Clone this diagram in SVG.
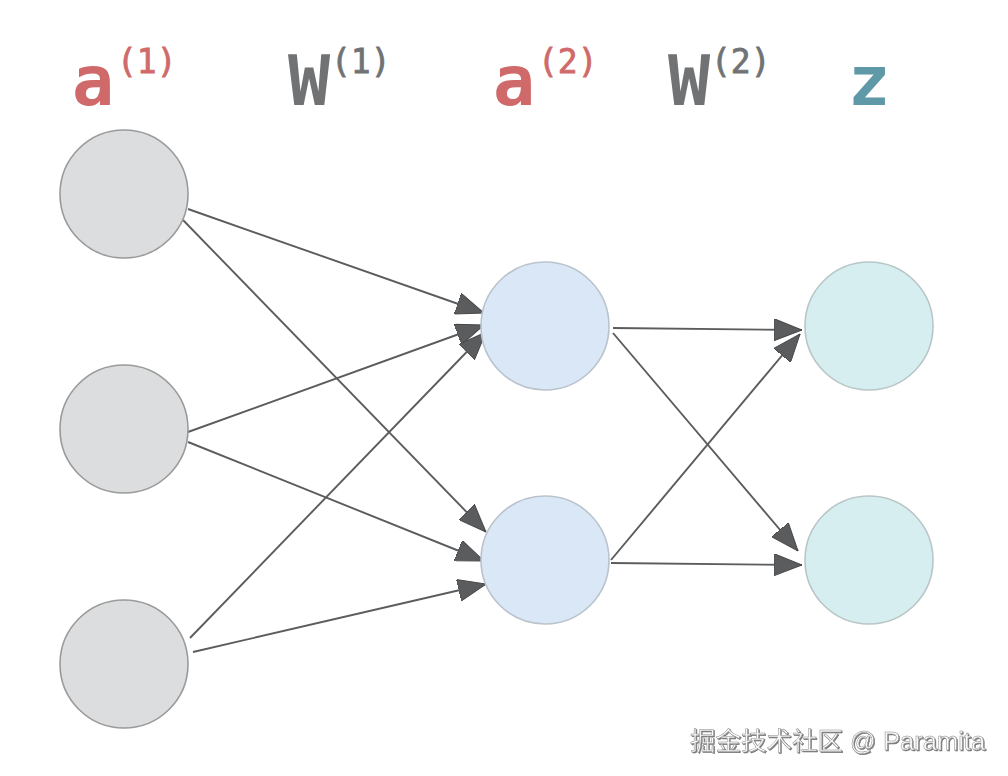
<svg xmlns="http://www.w3.org/2000/svg" width="1008" height="776" viewBox="0 0 1008 776">
<defs>
<style>
.lbl{font-family:"DejaVu Sans Mono","Liberation Mono",monospace;font-weight:bold;font-size:70px}
.sup{font-family:"DejaVu Sans Mono","Liberation Mono",monospace;font-size:33px;stroke-width:0.8}
.red{fill:#d06a6a}.gray{fill:#707274}.teal{fill:#5f98a6}
.sup.red{stroke:#d06a6a}.sup.gray{stroke:#707274}
.in{fill:#dcdddf;stroke:#9a9a9a;stroke-width:1.6}
.hid{fill:#dae7f7;stroke:#b9c3cc;stroke-width:1.6}
.out{fill:#d6eef0;stroke:#b8c6c8;stroke-width:1.6}
.c line{stroke:#5a5c5e;stroke-width:1.9;marker-end:url(#ah)}
.wm{font-family:"Liberation Sans","Noto Sans CJK SC",sans-serif;font-size:25.5px;fill:#fafafa;stroke:#8a8a8a;stroke-width:0.5;filter:url(#sh)}
</style>
<marker id="ah" viewBox="0 0 28 22" refX="28" refY="11" markerWidth="28" markerHeight="22" markerUnits="userSpaceOnUse" orient="auto">
<path d="M0,0 L28,11 L0,22 Z" fill="#5a5c5e" stroke="#47494b" stroke-width="1"/>
</marker>
<filter id="sh" x="-5%" y="-20%" width="110%" height="140%">
<feDropShadow dx="1" dy="1" stdDeviation="0.6" flood-color="#555" flood-opacity="0.8"/>
</filter>
</defs>
<rect width="1008" height="776" fill="#ffffff"/>
<g id="labels">
<text class="lbl red" x="72" y="105">a</text><text class="sup red" x="117" y="73">(1)</text>
<text class="lbl gray" x="288" y="105">W</text><text class="sup gray" x="331" y="73">(1)</text>
<text class="lbl red" x="493" y="105">a</text><text class="sup red" x="538" y="73">(2)</text>
<text class="lbl gray" x="668" y="105">W</text><text class="sup gray" x="711" y="73">(2)</text>
<text class="lbl teal" x="848" y="105">z</text>
</g>
<g id="connectors" class="c">
<line x1="188" y1="209" x2="484" y2="313"/>
<line x1="183" y1="220" x2="486" y2="532"/>
<line x1="188" y1="432" x2="484" y2="325"/>
<line x1="188" y1="442" x2="484" y2="561"/>
<line x1="190" y1="638" x2="486" y2="332"/>
<line x1="193" y1="652" x2="486" y2="584"/>
<line x1="613" y1="328" x2="802" y2="330"/>
<line x1="613" y1="333" x2="798" y2="551"/>
<line x1="611" y1="563" x2="802" y2="565"/>
<line x1="611" y1="560" x2="800" y2="334"/>
</g>
<g id="in1"><circle class="in" cx="124" cy="194" r="64"/></g>
<g id="in2"><circle class="in" cx="124" cy="429" r="64"/></g>
<g id="in3"><circle class="in" cx="124" cy="664" r="64"/></g>
<g id="h1"><circle class="hid" cx="545" cy="326" r="64"/></g>
<g id="h2"><circle class="hid" cx="545" cy="560" r="64"/></g>
<g id="o1"><circle class="out" cx="869" cy="326" r="64"/></g>
<g id="o2"><circle class="out" cx="869" cy="560" r="64"/></g>
<text class="wm" x="690" y="750">掘金技术社区 @ Paramita</text>
</svg>
